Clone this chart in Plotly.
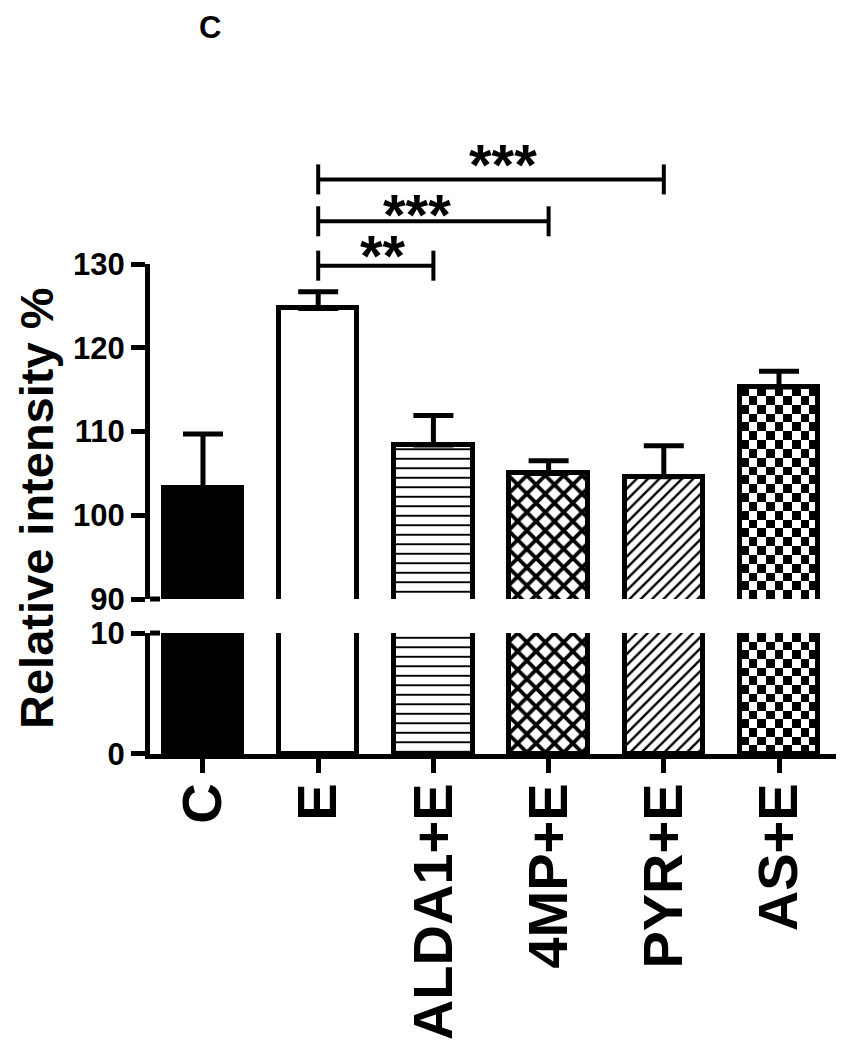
import plotly.graph_objects as go

# ---------------- data ----------------
categories = ["C", "E", "ALDA1+E", "4MP+E", "PYR+E", "AS+E"]
means = [103.2, 124.7, 108.4, 105.0, 104.6, 115.3]
sem = [6.5, 2.0, 3.5, 1.5, 3.7, 1.9]
comparisons = [(1, 2, "**"), (1, 3, "***"), (1, 4, "***")]
bracket_levels = [129.8, 135.1, 140.1]
top_ticks = [90, 100, 110, 120, 130]
bottom_ticks = [0, 10]

# ---------------- style ----------------
fill_colors = ["black", "white", "white", "white", "white", "rgba(0,0,0,0)"]
pattern_shapes = ["", "", "-", "x", "/", ""]
pattern_sizes = [8, 8, 9.5, 13, 8, 8]
pattern_solidity = [0.3, 0.3, 0.2, 0.5, 0.3, 0.3]
star_xshift = [7, -16, 12]
star_yshift = [10, 7, 15]
checker_index = 5
checker_px = 8.8

# page has an 8px body margin, so the figure is offset by 8px
W, H = 836, 1034
ML, MR, MT = 142, 6, 256
PLOT_BOTTOM = 746
MB = H - PLOT_BOTTOM
PW, PH = W - ML - MR, H - MT - MB
x_range = [-0.46, 5.512]
top_range = [90, 130]
bottom_range = [0, 10]
top_dom = [0.3163, 1.0]
bot_dom = [0.0, 0.2469]
bar_w = 0.68
FONT = "Liberation Sans, Arial, sans-serif"

xs = list(range(len(categories)))
top_ppu = (top_dom[1] - top_dom[0]) * PH / (top_range[1] - top_range[0])
bot_ppu = (bot_dom[1] - bot_dom[0]) * PH / (bottom_range[1] - bottom_range[0])
x_ppu = PW / (x_range[1] - x_range[0])


def xd(v):
    return (v - x_range[0]) / (x_range[1] - x_range[0])


def y2d(v):
    return (v - top_range[0]) / (top_range[1] - top_range[0])


fig = go.Figure()


def checker(y0, y1, xa, ya, ppu):
    ncols = max(1, round(bar_w * x_ppu / checker_px))
    nrows = max(1, round((y1 - y0) * ppu / checker_px))
    dx = bar_w / ncols
    dy = (y1 - y0) / nrows
    z = [[(r + c) % 2 for c in range(ncols)] for r in range(nrows)]
    fig.add_trace(go.Heatmap(
        z=z, x0=xs[checker_index] - bar_w / 2 + dx / 2, dx=dx,
        y0=y0 + dy / 2, dy=dy, colorscale=[[0, "white"], [1, "black"]],
        zmin=0, zmax=1, showscale=False, hoverinfo="skip",
        xaxis=xa, yaxis=ya))


checker(top_range[0], means[checker_index], "x2", "y2", top_ppu)
checker(bottom_range[0], bottom_range[1], "x", "y", bot_ppu)

for i in xs:
    mk = dict(color=fill_colors[i], line=dict(color="black", width=5))
    if pattern_shapes[i]:
        mk["pattern"] = dict(shape=pattern_shapes[i], size=pattern_sizes[i],
                             solidity=pattern_solidity[i], fgcolor="black",
                             bgcolor="white", fillmode="replace")
    fig.add_trace(go.Bar(x=[xs[i]], y=[means[i]], width=bar_w, marker=mk,
                         xaxis="x", yaxis="y", hoverinfo="skip", showlegend=False))
    fig.add_trace(go.Bar(x=[xs[i]], y=[means[i]], width=bar_w, marker=mk,
                         error_y=dict(type="data", array=[sem[i]], arrayminus=[0],
                                      symmetric=False, thickness=5, width=20,
                                      color="black"),
                         xaxis="x2", yaxis="y2", hoverinfo="skip", showlegend=False))

shapes = []
annotations = []
tick_half = 15 / ((top_dom[1] - top_dom[0]) * PH)
for k, ((a, b, label), lvl) in enumerate(zip(comparisons, bracket_levels)):
    yy = y2d(lvl)
    line = dict(color="black", width=4)
    shapes.append(dict(type="line", xref="x domain", yref="y2 domain",
                       x0=xd(xs[a]), x1=xd(xs[b]), y0=yy, y1=yy, line=line))
    for xi in (xs[a], xs[b]):
        shapes.append(dict(type="line", xref="x domain", yref="y2 domain",
                           x0=xd(xi), x1=xd(xi), y0=yy - tick_half, y1=yy + tick_half,
                           line=line))
    annotations.append(dict(text=label, xref="x domain", yref="y2 domain",
                            x=xd((xs[a] + xs[b]) / 2), y=yy,
                            xshift=star_xshift[k], yshift=star_yshift[k],
                            xanchor="center", yanchor="middle", showarrow=False,
                            font=dict(family=FONT, size=58, color="black", weight="bold")))

# axis break marks
shapes.append(dict(type="line", xref="x domain", yref="y2 domain", x0=0, x1=10 / PW,
                   y0=0, y1=0, line=dict(color="black", width=5)))
shapes.append(dict(type="line", xref="x domain", yref="y domain", x0=0, x1=10 / PW,
                   y0=1, y1=1, line=dict(color="black", width=5)))

annotations.append(dict(text="Relative intensity %", xref="paper", yref="paper",
                        x=(28 - ML) / PW, y=0.5, xanchor="center", yanchor="middle",
                        textangle=-90, showarrow=False,
                        font=dict(family=FONT, size=47, color="black", weight="bold")))
annotations.append(dict(text="C", xref="paper", yref="paper",
                        x=(202 - ML) / PW, y=(H - MB) / PH, xanchor="center",
                        yanchor="top", showarrow=False,
                        font=dict(family=FONT, size=31, color="black", weight="bold")))

axis_font = dict(family=FONT, size=31, color="black", weight="bold")
fig.update_layout(
    width=W, height=H, margin=dict(l=ML, r=MR, t=MT, b=MB, autoexpand=False),
    paper_bgcolor="white", plot_bgcolor="white", showlegend=False,
    bargap=0, barmode="overlay", template="none",
    xaxis=dict(domain=[0, 1], range=x_range, anchor="y", tickmode="array",
               tickvals=xs, ticktext=categories, tickangle=-90, automargin=False,
               ticks="outside", ticklen=14, tickwidth=5, tickcolor="black",
               ticklabelstandoff=-12,
               showline=True, linewidth=5, linecolor="black",
               showgrid=False, zeroline=False,
               tickfont=dict(family=FONT, size=56, color="black", weight="bold")),
    xaxis2=dict(domain=[0, 1], range=x_range, anchor="y2", matches="x",
                visible=False, showgrid=False, zeroline=False, automargin=False),
    yaxis=dict(domain=bot_dom, range=bottom_range, anchor="x", tickmode="array",
               tickvals=bottom_ticks, ticks="outside", ticklen=14, tickwidth=5,
               tickcolor="black", showline=True, linewidth=5, linecolor="black",
               showgrid=False, zeroline=False, tickfont=axis_font, automargin=False),
    yaxis2=dict(domain=top_dom, range=top_range, anchor="x2", tickmode="array",
                tickvals=top_ticks, ticks="outside", ticklen=14, tickwidth=5,
                tickcolor="black", showline=True, linewidth=5, linecolor="black",
                showgrid=False, zeroline=False, tickfont=axis_font, automargin=False),
    shapes=shapes, annotations=annotations,
)

fig.write_html("out.html")
